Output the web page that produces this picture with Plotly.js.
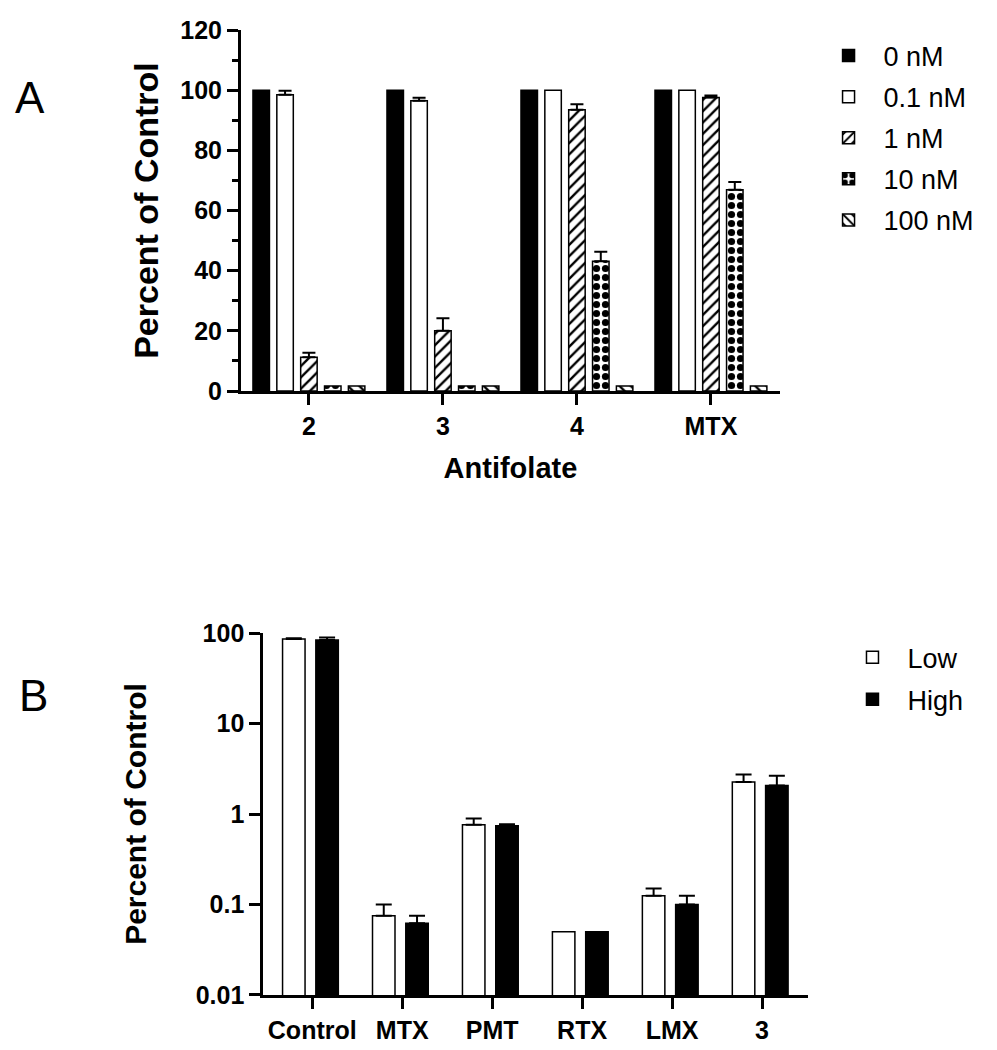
<!DOCTYPE html>
<html><head><meta charset="utf-8">
<script src="https://cdn.plot.ly/plotly-3.0.1.min.js"></script>
<style>html,body{margin:0;padding:0;background:#fff}#chart{width:997px;height:1050px}</style>
</head><body><div id="chart"></div>
<script>
// ---- Panel A data ----
const antifolates = ['2', '3', '4', 'MTX'];
const concLabels = ['0 nM', '0.1 nM', '1 nM', '10 nM', '100 nM'];
const pct0nM   = [100, 100, 100, 100];
const pct01nM  = [98.5, 96.5, 100, 100];
const pct1nM   = [11.2, 20.0, 93.5, 97.6];
const pct10nM  = [1.7, 1.7, 43.1, 66.9];
const pct100nM = [1.7, 1.7, 1.7, 1.7];
const err0nM   = [0, 0, 0, 0];
const err01nM  = [1.3, 1.0, 0, 0];
const err1nM   = [1.5, 4.2, 1.8, 0.6];
const err10nM  = [0, 0, 3.2, 2.6];
const err100nM = [0, 0, 0, 0];

// ---- Panel B data ----
const drugs = ['Control', 'MTX', 'PMT', 'RTX', 'LMX', '3'];
const doseLabels = ['Low', 'High'];
const lowVals  = [86, 0.075, 0.76, 0.05, 0.125, 2.26];
const lowErr   = [1.5, 0.025, 0.13, 0, 0.025, 0.47];
const highVals = [84, 0.062, 0.74, 0.05, 0.10, 2.06];
const highErr  = [5, 0.013, 0.03, 0, 0.025, 0.58];

const yTicksB = [0.01, 0.1, 1, 10, 100];
const yTickTextB = ['0.01', '0.1', '1', '10', '100'];

// ---- styles ----
const FONT = 'Liberation Sans, Arial, Helvetica, sans-serif';
function errBar(e, capW) {
  return {
    type: 'data', symmetric: false, visible: true,
    array: e.map(v => v > 0 ? v : NaN),
    arrayminus: e.map(v => v > 0 ? 0 : NaN),
    color: 'black', thickness: 2, width: capW
  };
}
const styleA = [
  {color: 'black', pattern: null},
  {color: 'white', pattern: null},
  {color: 'white', pattern: {shape: '/', fgcolor: 'black', bgcolor: 'white', size: 8, solidity: 0.3, fillmode: 'replace'}},
  {color: 'white', pattern: {shape: '.', fgcolor: 'black', bgcolor: 'white', size: 9, solidity: 0.5, fillmode: 'replace'}},
  {color: 'white', pattern: {shape: '\\', fgcolor: 'black', bgcolor: 'white', size: 8, solidity: 0.3, fillmode: 'replace'}}
];
const seriesA = [pct0nM, pct01nM, pct1nM, pct10nM, pct100nM];
const errorsA = [err0nM, err01nM, err1nM, err10nM, err100nM];
const pitchA = 0.178, widthA = 0.123;
const traces = [];
seriesA.forEach((vals, k) => {
  const m = {color: styleA[k].color, line: {color: 'black', width: 1.5}};
  if (styleA[k].pattern) m.pattern = styleA[k].pattern;
  traces.push({
    type: 'bar', name: concLabels[k], x: antifolates, y: vals,
    xaxis: 'x', yaxis: 'y', legend: 'legend', legendgroup: 'a' + k,
    width: widthA, offset: -2.5 * pitchA + k * pitchA + (pitchA - widthA) / 2,
    marker: m, error_y: errBar(errorsA[k], 6.5), hoverinfo: 'skip'
  });
});
const seriesB = [lowVals, highVals];
const errorsB = [lowErr, highErr];
const colorsB = ['white', 'black'];
const pitchB = 0.37, widthB = 0.25;
seriesB.forEach((vals, k) => {
  traces.push({
    type: 'bar', name: doseLabels[k], x: drugs, y: vals,
    xaxis: 'x2', yaxis: 'y2', legend: 'legend2', legendgroup: 'b' + k,
    width: widthB, offset: -1 * pitchB + k * pitchB + (pitchB - widthB) / 2 - 0.02,
    marker: {color: colorsB[k], line: {color: 'black', width: 1.5}},
    error_y: errBar(errorsB[k], 8), hoverinfo: 'skip'
  });
});

const axCommon = {
  showline: true, linewidth: 3, linecolor: 'black', showgrid: false, zeroline: false,
  ticks: 'outside', ticklen: 11, tickwidth: 3, tickcolor: 'black',
  tickfont: {family: FONT, size: 25, color: 'black', weight: 'bold'}, automargin: true
};

const layout = {
  width: 997, height: 1050,
  margin: {l: 0, r: 0, t: 0, b: 0, autoexpand: false},
  paper_bgcolor: 'white', plot_bgcolor: 'white',
  font: {family: FONT, color: 'black'},
  barmode: 'group',
  xaxis: Object.assign({}, axCommon, {
    domain: [0.2417, 0.7823], anchor: 'y', type: 'category', range: [-0.507, 3.515],
    title: {text: 'Antifolate', font: {family: FONT, size: 29, weight: 'bold', color: 'black'}, standoff: 19}
  }),
  yaxis: Object.assign({}, axCommon, {
    domain: [0.6276, 0.9714], anchor: 'x', range: [0, 120], tick0: 0, dtick: 20,
    minor: {dtick: 10, ticks: 'outside', ticklen: 6, tickwidth: 3, tickcolor: 'black'},
    title: {text: 'Percent of Control', font: {family: FONT, size: 34, weight: 'bold', color: 'black'}, standoff: 12}
  }),
  xaxis2: Object.assign({}, axCommon, {
    domain: [0.2641, 0.8104], anchor: 'y2', type: 'category', range: [-0.544, 5.511]
  }),
  yaxis2: Object.assign({}, axCommon, {
    domain: [0.0524, 0.3971], anchor: 'x2', type: 'log', range: [-2, 2],
    tickmode: 'array', tickvals: yTicksB, ticktext: yTickTextB,
    title: {text: 'Percent of Control', font: {family: FONT, size: 30, weight: 'bold', color: 'black'}, standoff: 41}
  }),
  legend: {
    x: 0.816, y: 0.970, xanchor: 'left', yanchor: 'top', itemwidth: 60,
    font: {family: FONT, size: 27, color: 'black'}, bgcolor: 'rgba(0,0,0,0)',
    traceorder: 'grouped', tracegroupgap: 3
  },
  legend2: {
    x: 0.84, y: 0.397, xanchor: 'left', yanchor: 'top', itemwidth: 60,
    font: {family: FONT, size: 27, color: 'black'}, bgcolor: 'rgba(0,0,0,0)',
    traceorder: 'grouped', tracegroupgap: 4
  },
  annotations: [
    {text: 'A', xref: 'paper', yref: 'paper', x: 0.0301, y: 0.9076, showarrow: false,
     font: {family: FONT, size: 44, color: 'black'}, xanchor: 'center', yanchor: 'middle'},
    {text: 'B', xref: 'paper', yref: 'paper', x: 0.0331, y: 0.338, showarrow: false,
     font: {family: FONT, size: 44, color: 'black'}, xanchor: 'center', yanchor: 'middle'}
  ]
};

Plotly.newPlot('chart', traces, layout, {displayModeBar: false, staticPlot: true});
</script>
</body></html>
